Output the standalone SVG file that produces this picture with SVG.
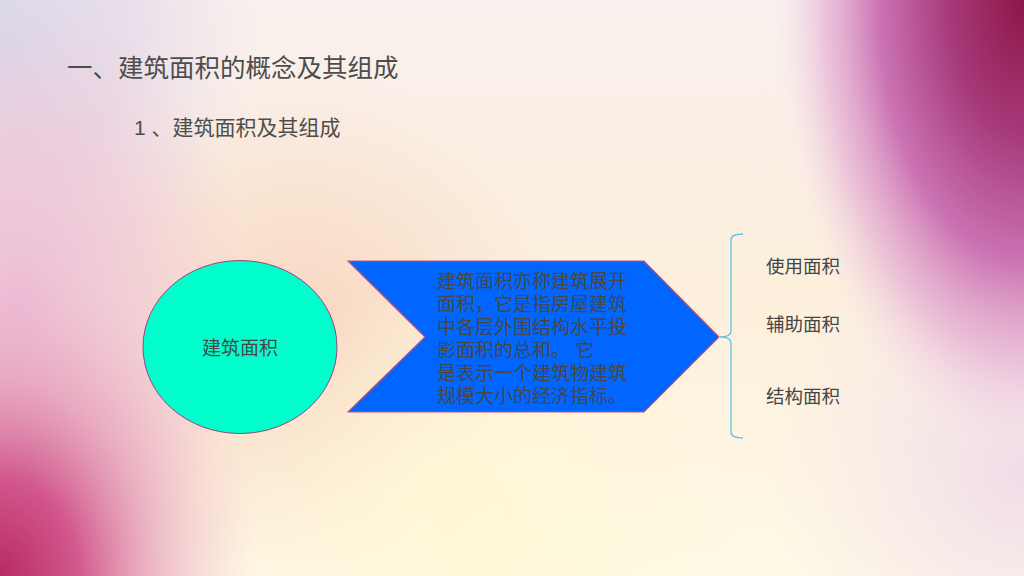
<svg xmlns="http://www.w3.org/2000/svg" width="1024" height="576" viewBox="0 0 1024 576">
<defs>
<linearGradient id="base" x1="0" y1="0" x2="0" y2="1">
<stop offset="0" stop-color="#f9f0ee"/>
<stop offset="0.5" stop-color="#fcefdc"/>
<stop offset="1" stop-color="#fffae6"/>
</linearGradient>
<radialGradient id="peach" cx="300" cy="330" r="260" gradientUnits="userSpaceOnUse">
<stop offset="0" stop-color="#f8d4c0" stop-opacity="1"/>
<stop offset="0.5" stop-color="#f8dcc8" stop-opacity="0.6"/>
<stop offset="1" stop-color="#f8dcc8" stop-opacity="0"/>
</radialGradient>
<radialGradient id="yellow" cx="480" cy="520" r="260" gradientUnits="userSpaceOnUse">
<stop offset="0" stop-color="#fff8d6" stop-opacity="1"/>
<stop offset="1" stop-color="#fff8d6" stop-opacity="0"/>
</radialGradient>
<radialGradient id="lav" cx="0" cy="40" r="260" gradientUnits="userSpaceOnUse">
<stop offset="0" stop-color="#d8d8ea" stop-opacity="1"/>
<stop offset="0.5" stop-color="#e2d6e8" stop-opacity="0.7"/>
<stop offset="1" stop-color="#e8dcec" stop-opacity="0"/>
</radialGradient>
<radialGradient id="leftpink" cx="20" cy="300" r="230" gradientUnits="userSpaceOnUse" gradientTransform="translate(20 300) scale(1 1.3) translate(-20 -300)">
<stop offset="0" stop-color="#ecbcd6" stop-opacity="1"/>
<stop offset="0.55" stop-color="#eec4d6" stop-opacity="0.6"/>
<stop offset="1" stop-color="#f0c8d8" stop-opacity="0"/>
</radialGradient>
<radialGradient id="blcorner" cx="0" cy="576" r="260" gradientUnits="userSpaceOnUse" gradientTransform="translate(0 576) scale(1 1.25) translate(0 -576)">
<stop offset="0" stop-color="#b82a62"/>
<stop offset="0.3" stop-color="#cf5088" stop-opacity="0.95"/>
<stop offset="0.6" stop-color="#e290b2" stop-opacity="0.6"/>
<stop offset="1" stop-color="#f0c0d0" stop-opacity="0"/>
</radialGradient>
<radialGradient id="trcorner" cx="1024" cy="0" r="250" gradientUnits="userSpaceOnUse" gradientTransform="translate(1024 0) scale(1 1.8) translate(-1024 0)">
<stop offset="0" stop-color="#8e1648"/>
<stop offset="0.3" stop-color="#a63a7a"/>
<stop offset="0.58" stop-color="#c86cb0" stop-opacity="0.95"/>
<stop offset="0.8" stop-color="#e2a6d0" stop-opacity="0.6"/>
<stop offset="1" stop-color="#f4daea" stop-opacity="0"/>
</radialGradient>
<radialGradient id="brpink" cx="1024" cy="470" r="260" gradientUnits="userSpaceOnUse">
<stop offset="0" stop-color="#f0dce8" stop-opacity="1"/>
<stop offset="1" stop-color="#f4e4ee" stop-opacity="0"/>
</radialGradient>
<style>
.t{font-family:"Liberation Sans","Noto Sans CJK SC",sans-serif;fill:#4d4d4d}
.body{font-family:"Liberation Sans","Noto Sans CJK SC",sans-serif;fill:#474747;font-size:19px}
.lab{font-family:"Liberation Sans","Noto Sans CJK SC",sans-serif;fill:#454545;font-size:18.5px}
</style>
</defs>
<g id="background">
<rect x="0" y="0" width="1024" height="576" fill="url(#base)"/>
<rect x="0" y="0" width="1024" height="576" fill="url(#peach)"/>
<rect x="0" y="0" width="1024" height="576" fill="url(#yellow)"/>
<rect x="0" y="0" width="1024" height="576" fill="url(#lav)"/>
<rect x="0" y="0" width="1024" height="576" fill="url(#leftpink)"/>
<rect x="0" y="0" width="1024" height="576" fill="url(#brpink)"/>
<rect x="0" y="0" width="1024" height="576" fill="url(#blcorner)"/>
<rect x="0" y="0" width="1024" height="576" fill="url(#trcorner)"/>
</g>
<g id="title">
<text class="t" x="67" y="77" font-size="25.5px">一、建筑面积的概念及其组成</text>
</g>
<g id="subtitle">
<text class="t" x="134" y="135" font-size="21px">1 、建筑面积及其组成</text>
</g>
<g id="node-ellipse">
<ellipse cx="240" cy="347" rx="97" ry="86.5" fill="#00ffcc" stroke="#a0407a" stroke-width="1"/>
<text class="body" x="240" y="355" text-anchor="middle">建筑面积</text>
</g>
<g id="node-chevron">
<polygon points="348,261 644,261 719,337 644,412 348,412 425,337" fill="#0066ff" stroke="#c0507a" stroke-width="1.2"/>
<text class="body" x="437" y="288">建筑面积亦称建筑展开</text>
<text class="body" x="437" y="311">面积，它是指房屋建筑</text>
<text class="body" x="437" y="334">中各层外围结构水平投</text>
<text class="body" x="437" y="357">影面积的总和。 它</text>
<text class="body" x="437" y="380">是表示一个建筑物建筑</text>
<text class="body" x="437" y="403">规模大小的经济指标。</text>
</g>
<g id="connectors">
<path d="M743,234 Q731,234 731,240 L731,331 Q731,337 720,337 Q731,337 731,343 L731,432 Q731,438 743,438" fill="none" stroke="#5cc6e8" stroke-width="1.3"/>
</g>
<g id="node-use">
<text class="lab" x="766" y="273">使用面积</text>
</g>
<g id="node-aux">
<text class="lab" x="766" y="331">辅助面积</text>
</g>
<g id="node-struct">
<text class="lab" x="766" y="403">结构面积</text>
</g>
</svg>
